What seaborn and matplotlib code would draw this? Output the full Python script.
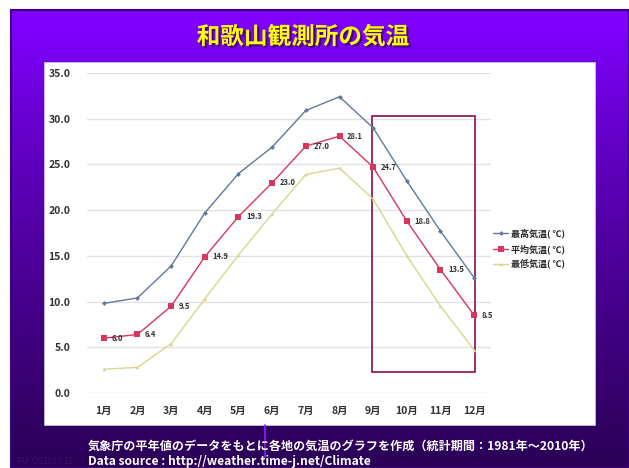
import numpy as np
import pandas as pd
import matplotlib
matplotlib.use('Agg')
import matplotlib.pyplot as plt
import matplotlib.patheffects as pe
from matplotlib.patches import Rectangle
import seaborn as sns

# Data (Wakayama normals 1981-2010)
MONTHS = ['1月', '2月', '3月', '4月', '5月', '6月', '7月', '8月', '9月', '10月', '11月', '12月']
T_MAX = [9.8, 10.4, 13.9, 19.7, 24.0, 26.9, 30.9, 32.4, 29.0, 23.2, 17.7, 12.6]
T_MEAN = [6.0, 6.4, 9.5, 14.9, 19.3, 23.0, 27.0, 28.1, 24.7, 18.8, 13.5, 8.5]
T_MIN = [2.6, 2.8, 5.4, 10.3, 15.1, 19.6, 23.9, 24.6, 21.2, 15.0, 9.5, 4.7]
SERIES = ['最高気温( ℃)', '平均気温( ℃)', '最低気温( ℃)']

sns.set_style('white')
plt.rcParams['font.family'] = ['Noto Sans CJK JP', 'DejaVu Sans']

W, H = 629, 468
fig = plt.figure(figsize=(W / 100, H / 100), dpi=100)
fig.patch.set_facecolor('white')

def fx(px):
    return px / W

def fy(py):
    return 1 - py / H

# purple slide background with vertical gradient
bg = fig.add_axes([0, 0, 1, 1])
bg.set_xlim(0, W)
bg.set_ylim(H, 0)
bg.axis('off')
top = np.array([0x80, 0x00, 0xff]) / 255
bot = np.array([0x2a, 0x00, 0x55]) / 255
t = np.linspace(0, 1, 256)[:, None]
t = np.clip((t - 0.05) / 0.95, 0, 1) ** 0.8
grad = top[None, None, :] * (1 - t[:, :, None]) + bot[None, None, :] * t[:, :, None]
bg.imshow(grad, extent=[11, W, H, 10], aspect='auto')
bg.add_patch(Rectangle((11, 10), W - 11, H - 10, fill=False, edgecolor='#3a0080', linewidth=1.5))
# white chart panel
bg.add_patch(Rectangle((44, 62), 551, 363, facecolor='white', edgecolor='#d0d0d0', linewidth=0.5))
bg.plot([265, 265], [425, 457], color='#8a20ff', linewidth=1.2)

bg.text(303, 37, '和歌山観測所の気温', color='#ffff00', fontsize=17, fontweight='bold',
        ha='center', va='center',
        path_effects=[pe.withSimplePatchShadow(offset=(1.5, -1.5), shadow_rgbFace='#3a0070', alpha=0.8)])
bg.text(88, 446, '気象庁の平年値のデータをもとに各地の気温のグラフを作成（統計期間：1981年〜2010年）',
        color='white', fontsize=8.7, fontweight='bold', ha='left', va='center')
bg.text(88, 461, 'Data source : http://weather.time-j.net/Climate',
        color='white', fontsize=8.7, fontweight='bold', ha='left', va='center')
bg.text(16, 462, 'TAF:OS2013.12', color='#3a1070', fontsize=6, ha='left', va='center')

# main plot
ax = fig.add_axes([fx(87), fy(393), fx(491) - fx(87), fy(73) - fy(393)])
df = pd.DataFrame({'month': MONTHS * 3,
                   'temp': T_MAX + T_MEAN + T_MIN,
                   'series': [SERIES[0]] * 12 + [SERIES[1]] * 12 + [SERIES[2]] * 12})
palette = {SERIES[0]: '#64789a', SERIES[1]: '#d8365c', SERIES[2]: '#d9d68e'}
markers = {SERIES[0]: 'D', SERIES[1]: 's', SERIES[2]: '^'}
sizes = {SERIES[0]: 2.5, SERIES[1]: 4, SERIES[2]: 2.5}
for s in SERIES:
    d = df[df['series'] == s]
    sns.lineplot(data=d, x='month', y='temp', ax=ax, color=palette[s], marker=markers[s],
                 markersize=sizes[s], markeredgewidth=0, linewidth=1.0, label=s, sort=False)

for i, v in enumerate(T_MEAN):
    ax.text(i + 0.22, v, f'{v:.1f}', fontsize=5.5, color='#333333', ha='left', va='center',
            fontweight='bold')

ax.set_xlim(-0.5, 11.5)
ax.set_ylim(0, 35)
ax.set_yticks(np.arange(0, 35.1, 5))
ax.set_yticklabels([f'{v:.1f}' for v in np.arange(0, 35.1, 5)])
ax.set_xlabel('')
ax.set_ylabel('')
ax.grid(axis='y', color='#e2e2e2', linewidth=1.0)
ax.set_facecolor('none')
for sp in ax.spines.values():
    sp.set_visible(False)
ax.tick_params(axis='both', length=0, labelsize=7.5, colors='#333333')
for lbl in ax.get_xticklabels() + ax.get_yticklabels():
    lbl.set_fontweight('bold')
ax.tick_params(axis='x', pad=9)
ax.tick_params(axis='y', pad=12)

# highlight box over Sep-Dec
ax.add_patch(Rectangle((7.97, 2.3), 3.06, 28.0, fill=False, edgecolor='#8b0a50',
                       linewidth=1.2, clip_on=False))

leg = ax.legend(loc='center left', bbox_to_anchor=(0.99, 0.45), frameon=False, fontsize=6.5,
                handlelength=1.6, labelspacing=0.6, borderaxespad=0.3, handletextpad=0.4)
for txt in leg.get_texts():
    txt.set_fontweight('bold')

fig.savefig('out.png', dpi=100)
